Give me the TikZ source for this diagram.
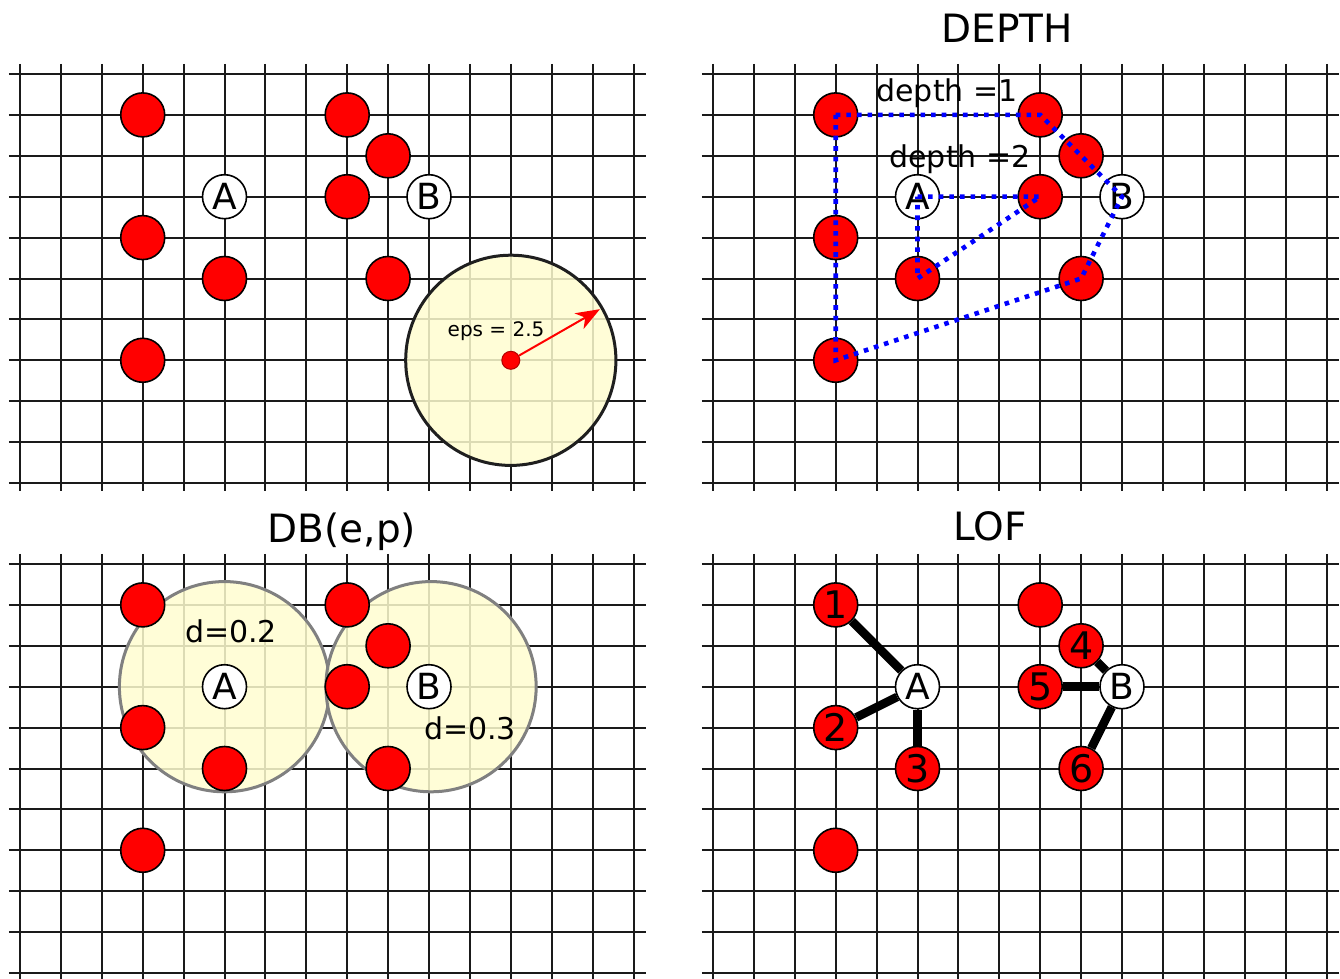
\documentclass[tikz,border=0pt]{standalone}
\usepackage{fontspec}
\setmainfont{DejaVu Sans}
\usetikzlibrary{arrows.meta}
\definecolor{gridc}{HTML}{1A1A1A}
\definecolor{epsfill}{HTML}{FFFDD0}
\definecolor{dotblue}{HTML}{0000FF}
\tikzset{
  gridline/.style={draw=gridc, line width=1pt},
  redpt/.style={circle, draw=black, line width=0.8pt, fill=red, minimum size=22pt, inner sep=0pt, font=\fontsize{19}{19}\selectfont},
  whitept/.style={circle, draw=black, line width=0.8pt, fill=white, minimum size=22pt, inner sep=0pt, font=\fontsize{18}{18}\selectfont},
  titletext/.style={font=\fontsize{19.5}{20}\selectfont, anchor=base},
  notetext/.style={font=\fontsize{15}{15}\selectfont, anchor=base},
  epsdisk/.style={fill=epsfill, fill opacity=0.85, draw=black!88, line width=1.5pt},
  dbdisk/.style={fill=epsfill, fill opacity=0.85, draw=black!50, line width=1.5pt},
  depthline/.style={draw=dotblue, line width=2.3pt, dash pattern=on 2.3pt off 3pt},
  lofedge/.style={draw=black, line width=4.3pt},
  panel/.style={x=20.45pt, y=-20.45pt}
}
\newcommand\panelgrid{%
  \foreach \r in {0,...,10} {\draw[gridline] (-0.27,\r) -- (15.3,\r);}
  \foreach \c in {0,...,15} {\draw[gridline] (\c,-0.245) -- (\c,10.2);}
}
\begin{document}
\begin{tikzpicture}[x=0.5pt, y=-0.5pt]
\clip (0,0) rectangle (1340,979);
\fill[white] (0,0) rectangle (1340,979);

% ---------- top-left ----------
\begin{scope}[shift={(20,74)}, panel]
  \panelgrid
  \draw[epsdisk] (12,7) circle[radius=2.57];
  \node[redpt] (a1) at (3,1) {};
  \node[redpt] (a2) at (3,4) {};
  \node[redpt] (a3) at (3,7) {};
  \node[redpt] (a4) at (5,5) {};
  \node[redpt] (a5) at (8,1) {};
  \node[redpt] (a6) at (9,2) {};
  \node[redpt] (a7) at (8,3) {};
  \node[redpt] (a8) at (9,5) {};
  \node[whitept] (aA) at (5,3) {A};
  \node[whitept] (aB) at (10,3) {B};
  \node[circle, fill=red, draw=red!70!black, line width=0.5pt, minimum size=9pt, inner sep=0pt] (ctr) at (12,7) {};
  \coordinate (tip) at (14.18,5.75);
  \draw[red, line width=1pt, -{Stealth[length=12pt,width=9pt,inset=3.5pt]}] (ctr) -- (tip);
  \node[font=\fontsize{10}{10}\selectfont, anchor=base] (eps) at (11.64,6.43) {eps = 2.5};
\end{scope}

% ---------- top-right ----------
\node[titletext] (t1) at (1007,43) {DEPTH};
\begin{scope}[shift={(713,74)}, panel]
  \panelgrid
  \node[redpt] (b1) at (3,1) {};
  \node[redpt] (b2) at (3,4) {};
  \node[redpt] (b3) at (3,7) {};
  \node[redpt] (b4) at (5,5) {};
  \node[redpt] (b5) at (8,1) {};
  \node[redpt] (b6) at (9,2) {};
  \node[redpt] (b7) at (8,3) {};
  \node[redpt] (b8) at (9,5) {};
  \node[whitept] (bA) at (5,3) {A};
  \node[whitept] (bB) at (10,3) {B};
  \draw[depthline] (b1.center) -- (b5.center) -- (b6.center) -- (bB.center) -- (b8.center) -- (b3.center) -- cycle;
  \draw[depthline] (bA.center) -- (b7.center) -- (b4.center) -- cycle;
\end{scope}
\node[notetext] (dep1) at (947,102) {depth =1};
\node[notetext] (dep2) at (960,168) {depth =2};

% ---------- bottom-left ----------
\node[titletext] (t2) at (342,542) {DB(e,p)};
\begin{scope}[shift={(20,564)}, panel]
  \panelgrid
  \draw[dbdisk] (5,3) circle[radius=2.57];
  \draw[dbdisk] (10.05,3) circle[radius=2.57];
  \node[redpt] (c1) at (3,1) {};
  \node[redpt] (c2) at (3,4) {};
  \node[redpt] (c3) at (3,7) {};
  \node[redpt] (c4) at (5,5) {};
  \node[redpt] (c5) at (8,1) {};
  \node[redpt] (c6) at (9,2) {};
  \node[redpt] (c7) at (8,3) {};
  \node[redpt] (c8) at (9,5) {};
  \node[whitept] (cA) at (5,3) {A};
  \node[whitept] (cB) at (10,3) {B};
\end{scope}
\node[notetext] (dA) at (231,642) {d=0.2};
\node[notetext] (dB) at (470,739) {d=0.3};

% ---------- bottom-right ----------
\node[titletext] (t3) at (990,540) {LOF};
\begin{scope}[shift={(713,564)}, panel]
  \panelgrid
  \node[redpt] (n1) at (3,1) {1};
  \node[redpt] (n2) at (3,4) {2};
  \node[redpt] (n3) at (5,5) {3};
  \node[redpt] (nx) at (3,7) {};
  \node[redpt] (ny) at (8,1) {};
  \node[redpt] (n4) at (9,2) {4};
  \node[redpt] (n5) at (8,3) {5};
  \node[redpt] (n6) at (9,5) {6};
  \node[whitept] (nA) at (5,3) {A};
  \node[whitept] (nB) at (10,3) {B};
  \draw[lofedge] (n1) -- (nA);
  \draw[lofedge] (n2) -- (nA);
  \draw[lofedge] (n3) -- (nA);
  \draw[lofedge] (n4) -- (nB);
  \draw[lofedge] (n5) -- (nB);
  \draw[lofedge] (n6) -- (nB);
\end{scope}
\end{tikzpicture}
\end{document}
